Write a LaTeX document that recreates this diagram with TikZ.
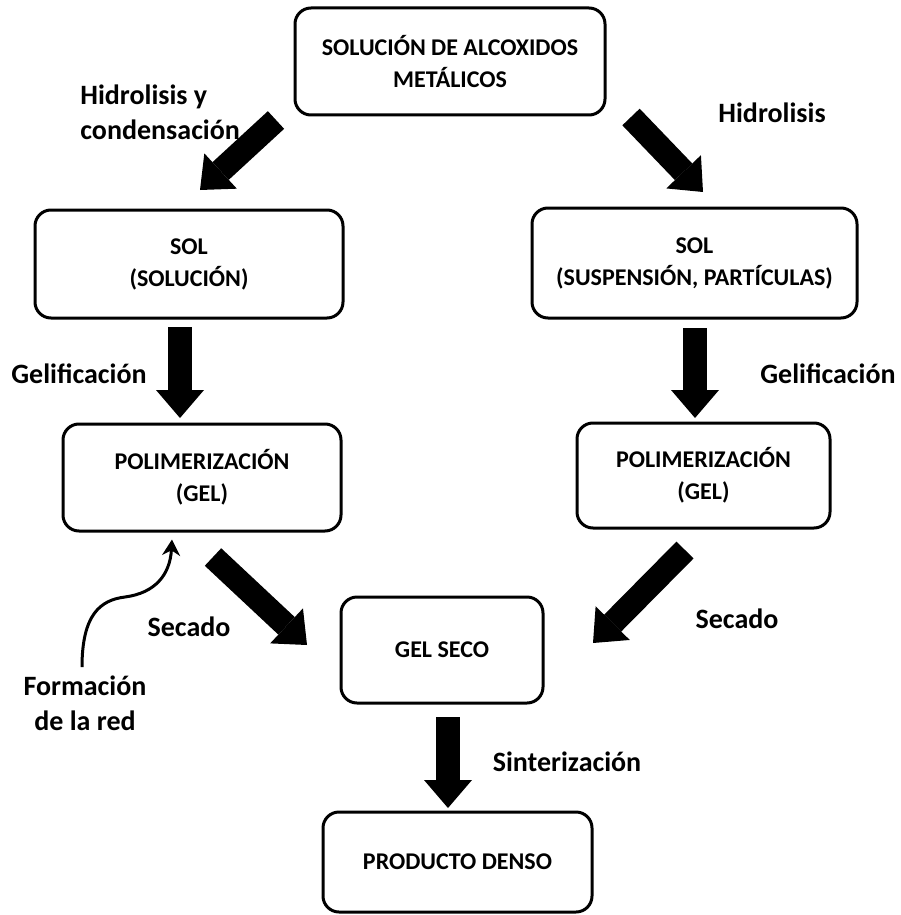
\documentclass[tikz,border=0pt]{standalone}
\usepackage{fontspec}
\setmainfont{Carlito}
\usetikzlibrary{arrows.meta}

\begin{document}
\begin{tikzpicture}[x=0.5pt,y=-0.5pt,
  caja/.style={draw, line width=1.5pt, rounded corners=8pt, inner sep=0pt, align=center, font=\bfseries\fontsize{12}{16}\selectfont},
  etiqueta/.style={font=\bfseries\fontsize{14}{17.5}\selectfont, inner sep=0pt},
  flecha/.style={line width=12pt, -{Triangle[length=14pt 0 0, width=24pt 0 0, line width=0pt 0 0]}}]

\useasboundingbox (0,0) rectangle (900,915);

% Cajas
\node[caja, minimum width=155pt, minimum height=53.5pt] (alcox) at (450,61.5) {SOLUCIÓN DE ALCOXIDOS\\METÁLICOS};
\node[caja, minimum width=154pt, minimum height=54pt] (sol1) at (189,264) {SOL\\(SOLUCIÓN)};
\node[caja, minimum width=162.5pt, minimum height=55pt] (sol2) at (694.5,263) {SOL\\(SUSPENSIÓN, PARTÍCULAS)};
\node[caja, minimum width=139pt, minimum height=53.5pt] (pol1) at (202,477.5) {POLIMERIZACIÓN\\(GEL)};
\node[caja, minimum width=126.5pt, minimum height=52.5pt] (pol2) at (703.5,475.5) {POLIMERIZACIÓN\\(GEL)};
\node[caja, minimum width=101pt, minimum height=53pt] (gelseco) at (442,650) {GEL SECO};
\node[caja, minimum width=134.5pt, minimum height=50pt] (denso) at (457.5,862) {PRODUCTO DENSO};

% Etiquetas
\node[etiqueta, anchor=west, align=left] (hidcond) at (80,112) {Hidrolisis y\\condensación};
\node[etiqueta] (hid) at (772,113) {Hidrolisis};
\node[etiqueta] (gelif1) at (79,374) {Gelificación};
\node[etiqueta] (gelif2) at (828,374) {Gelificación};
\node[etiqueta] (secado1) at (189,627) {Secado};
\node[etiqueta] (secado2) at (737,619) {Secado};
\node[etiqueta, align=center] (red) at (85,703) {Formación\\de la red};
\node[etiqueta] (sint) at (567,762) {Sinterización};

% Flechas gruesas
\coordinate (f1a) at (276,120); \coordinate (f1b) at (200,190);
\coordinate (f2a) at (631,117); \coordinate (f2b) at (703,192);
\coordinate (f3a) at (180,327); \coordinate (f3b) at (180,418);
\coordinate (f4a) at (695,328); \coordinate (f4b) at (695,418);
\coordinate (f5a) at (213,557); \coordinate (f5b) at (307,645);
\coordinate (f6a) at (685,550); \coordinate (f6b) at (593,643);
\coordinate (f7a) at (448,717); \coordinate (f7b) at (448,808);
\draw[flecha] (f1a) -- (f1b);
\draw[flecha] (f2a) -- (f2b);
\draw[flecha] (f3a) -- (f3b);
\draw[flecha] (f4a) -- (f4b);
\draw[flecha] (f5a) -- (f5b);
\draw[flecha] (f6a) -- (f6b);
\draw[flecha] (f7a) -- (f7b);

% Formacion de la red
\draw[line width=1.5pt, -{Stealth[length=8pt, width=9pt]}] ([xshift=-1.5pt,yshift=4pt]red.north)
  .. controls (82,615) and (100,600) .. (125,597)
  .. controls (155,593) and (170,575) .. ([xshift=-15pt,yshift=-3.5pt]pol1.south);

\end{tikzpicture}
\end{document}
